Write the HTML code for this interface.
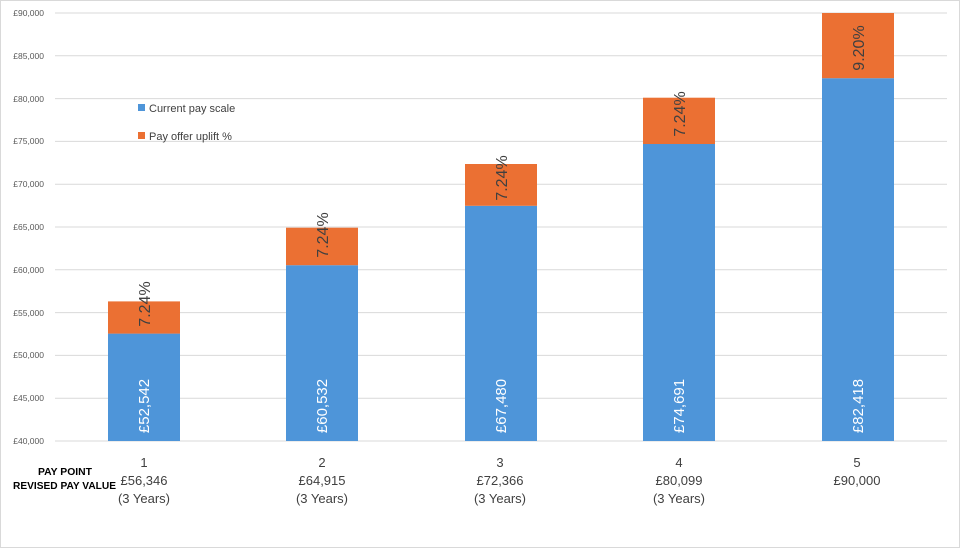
<!DOCTYPE html>
<html><head><meta charset="utf-8"><style>
html,body{margin:0;padding:0;background:#fff;}
svg{display:block;font-family:"Liberation Sans",sans-serif;}
</style></head><body>
<svg width="960" height="548" viewBox="0 0 960 548">
<rect x="0.5" y="0.5" width="959" height="547" fill="#fff" stroke="#d9d9d9"/>
<g stroke="#d9d9d9" stroke-width="1">
<line x1="55" x2="947" y1="13" y2="13"/>
<line x1="55" x2="947" y1="55.8" y2="55.8"/>
<line x1="55" x2="947" y1="98.6" y2="98.6"/>
<line x1="55" x2="947" y1="141.4" y2="141.4"/>
<line x1="55" x2="947" y1="184.2" y2="184.2"/>
<line x1="55" x2="947" y1="227" y2="227"/>
<line x1="55" x2="947" y1="269.8" y2="269.8"/>
<line x1="55" x2="947" y1="312.6" y2="312.6"/>
<line x1="55" x2="947" y1="355.4" y2="355.4"/>
<line x1="55" x2="947" y1="398.2" y2="398.2"/>
<line x1="55" x2="947" y1="441" y2="441"/>
</g>
<g font-size="8.5" fill="#595959" text-anchor="end">
<text x="44" y="16">£90,000</text>
<text x="44" y="59">£85,000</text>
<text x="44" y="102">£80,000</text>
<text x="44" y="144">£75,000</text>
<text x="44" y="187">£70,000</text>
<text x="44" y="230">£65,000</text>
<text x="44" y="273">£60,000</text>
<text x="44" y="316">£55,000</text>
<text x="44" y="358">£50,000</text>
<text x="44" y="401">£45,000</text>
<text x="44" y="444">£40,000</text>
</g>
<g fill="#4e95d9">
<rect x="108" y="333.6" width="72" height="107.4"/>
<rect x="286" y="265.2" width="72" height="175.8"/>
<rect x="465" y="205.8" width="72" height="235.2"/>
<rect x="643" y="144" width="72" height="297"/>
<rect x="822" y="78.2" width="72" height="362.8"/>
</g>
<g fill="#eb7033">
<rect x="108" y="301.4" width="72" height="32.2"/>
<rect x="286" y="227.7" width="72" height="37.5"/>
<rect x="465" y="164" width="72" height="41.8"/>
<rect x="643" y="97.7" width="72" height="46.3"/>
<rect x="822" y="13" width="72" height="65.2"/>
</g>
<g font-size="15" fill="#fff" text-anchor="middle">
<text transform="translate(149,406) rotate(-90)">£52,542</text>
<text transform="translate(327,406) rotate(-90)">£60,532</text>
<text transform="translate(506,406) rotate(-90)">£67,480</text>
<text transform="translate(684,406) rotate(-90)">£74,691</text>
<text transform="translate(863,406) rotate(-90)">£82,418</text>
</g>
<g font-size="16" fill="#404040" text-anchor="middle">
<text transform="translate(150,304) rotate(-90)">7.24%</text>
<text transform="translate(328,235) rotate(-90)">7.24%</text>
<text transform="translate(507,178) rotate(-90)">7.24%</text>
<text transform="translate(685,114) rotate(-90)">7.24%</text>
<text transform="translate(864,48) rotate(-90)">9.20%</text>
</g>
<rect x="138" y="104" width="7" height="7" fill="#4e95d9"/>
<text x="149" y="112" font-size="11" fill="#404040">Current pay scale</text>
<rect x="138" y="132" width="7" height="7" fill="#eb7033"/>
<text x="149" y="140" font-size="11" fill="#404040">Pay offer uplift %</text>
<g font-size="13" fill="#404040" text-anchor="middle">
<text x="144" y="467">1</text><text x="144" y="485">£56,346</text><text x="144" y="503">(3 Years)</text>
<text x="322" y="467">2</text><text x="322" y="485">£64,915</text><text x="322" y="503">(3 Years)</text>
<text x="500" y="467">3</text><text x="500" y="485">£72,366</text><text x="500" y="503">(3 Years)</text>
<text x="679" y="467">4</text><text x="679" y="485">£80,099</text><text x="679" y="503">(3 Years)</text>
<text x="857" y="467">5</text><text x="857" y="485">£90,000</text>
</g>
<g font-size="10.5" font-weight="bold" fill="#000">
<text x="38" y="475" textLength="54" lengthAdjust="spacingAndGlyphs">PAY POINT</text>
<text x="13" y="489" textLength="103" lengthAdjust="spacingAndGlyphs">REVISED PAY VALUE</text>
</g>
</svg>
</body></html>
